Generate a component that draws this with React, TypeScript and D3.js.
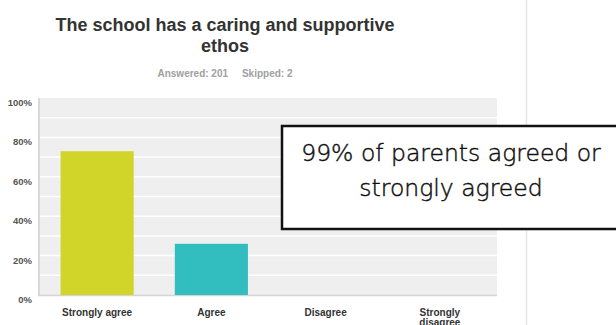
import React from "react";
import * as d3 from "d3";

const categories = ["Strongly agree", "Agree", "Disagree", "Strongly disagree"];
const values = [0.73, 0.26, 0, 0];
const barColors = ["#d1d52a", "#32bdbf", "#999999", "#999999"];
const yTicks = [0, 0.2, 0.4, 0.6, 0.8, 1];
const gridTicks = [0.1, 0.2, 0.3, 0.4, 0.5, 0.6, 0.7, 0.8, 0.9];
const titleLines = ["The school has a caring and supportive", "ethos"];
const subtitle = ["Answered: 201", "Skipped: 2"];
const calloutLines = ["99% of parents agreed or", "strongly agreed"];

const W = 616, H = 325;
const plot = { left: 40, right: 497, top: 98, bottom: 295 };

export default function App() {
  const x = d3.scaleBand<string>().domain(categories).range([plot.left, plot.right]).paddingInner(0.36).paddingOuter(0.18);
  const y = d3.scaleLinear().domain([0, 1]).range([plot.bottom, plot.top]);
  const fmt = d3.format(".0%");
  return (
    <svg width={W} height={H} style={{ position: "absolute", left: 0, top: 0, background: "#fff" }}>
      <rect x={0} y={0} width={W} height={H} fill="#fff" />
      <line x1={526.5} x2={526.5} y1={0} y2={H} stroke="#e6e6e6" strokeWidth={1.5} />
      {titleLines.map((t, i) => (
        <text key={i} x={225} y={31 + i * 21} textAnchor="middle" fontFamily="Arial, Liberation Sans, sans-serif" fontWeight="bold" fontSize={18} fill="#333">{t}</text>
      ))}
      <text x={225} y={77} textAnchor="middle" fontFamily="Arial, Liberation Sans, sans-serif" fontWeight="bold" fontSize={10} fill="#a0a0a0" style={{ whiteSpace: "pre" }}>{subtitle.join("     ")}</text>
      <rect x={plot.left} y={plot.top} width={plot.right - plot.left} height={plot.bottom - plot.top} fill="#efefef" />
      {gridTicks.map((t) => (
        <line key={t} x1={plot.left} x2={plot.right} y1={y(t)} y2={y(t)} stroke="#ffffff" strokeWidth={1.5} />
      ))}
      <line x1={plot.left - 1} x2={plot.left - 1} y1={plot.top} y2={plot.bottom + 1} stroke="#d9d9d9" strokeWidth={2} />
      <line x1={plot.left - 2} x2={plot.right} y1={plot.bottom + 0.5} y2={plot.bottom + 0.5} stroke="#d4d4d4" strokeWidth={1.5} />
      {yTicks.map((t) => (
        <text key={t} x={32} y={y(t) + 8} textAnchor="end" fontFamily="Arial, Liberation Sans, sans-serif" fontWeight="bold" fontSize={9.5} fill="#555">{fmt(t)}</text>
      ))}
      {categories.map((c, i) => (
        <rect key={c} x={x(c)} y={y(values[i])} width={x.bandwidth()} height={plot.bottom - y(values[i])} fill={barColors[i]} />
      ))}
      {categories.map((c) => {
        const cx = (x(c) as number) + x.bandwidth() / 2;
        const words = c === "Strongly disagree" ? ["Strongly", "disagree"] : [c];
        return words.map((w, j) => (
          <text key={c + j} x={cx} y={316 + j * 10} textAnchor="middle" fontFamily="Arial, Liberation Sans, sans-serif" fontWeight="bold" fontSize={10} fill="#333">{w}</text>
        ));
      })}
      <rect x={282} y={126} width={340} height={103} fill="#fff" stroke="#111" strokeWidth={2.5} />
      {calloutLines.map((t, i) => (
        <text key={i} x={451} y={161 + i * 35} textAnchor="middle" fontFamily="'DejaVu Sans', sans-serif" fontWeight={200} fontSize={23.5} fill="#111" stroke="#111" strokeWidth={0.45}>{t}</text>
      ))}
    </svg>
  );
}
